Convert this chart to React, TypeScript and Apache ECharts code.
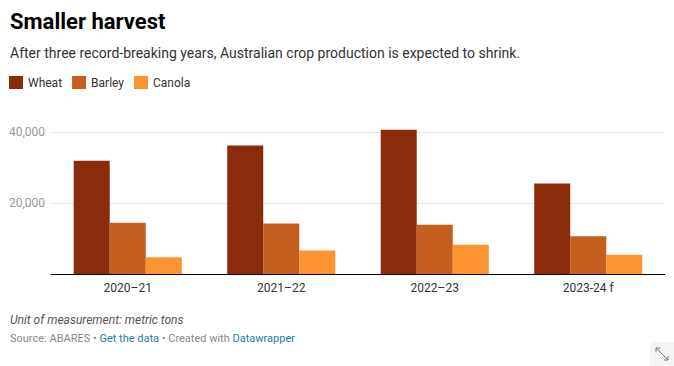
import React, { useEffect, useRef } from "react";
import * as echarts from "echarts";

const categories = ["2020–21", "2021–22", "2022–23", "2023-24 f"];
const wheat = [31900, 36200, 40650, 25500];
const barley = [14450, 14250, 13900, 10600];
const canola = [4700, 6650, 8250, 5450];
const yTicks = [20000, 40000];

const FONT = "Roboto, 'Noto Sans', sans-serif";

export default function App() {
  const ref = useRef<HTMLDivElement>(null);
  useEffect(() => {
    if (!ref.current) return;
    const chart = echarts.init(ref.current, undefined, { renderer: "svg" });
    const mk = (name: string, data: number[], color: string) => ({
      name,
      type: "bar",
      data,
      itemStyle: { color },
      barGap: "0%",
      barCategoryGap: "29.6%",
      clip: false,
    });
    chart.setOption({
      animation: false,
      textStyle: { fontFamily: FONT },
      legend: {
        left: 9,
        top: 76,
        padding: 0,
        icon: "rect",
        itemWidth: 14,
        itemHeight: 13,
        itemGap: 10,
        textStyle: { fontSize: 12, color: "#333", fontFamily: FONT },
        selectedMode: false,
      },
      grid: { left: 51, right: 9, top: 132, bottom: 92, containLabel: false },
      xAxis: {
        type: "category",
        data: categories,
        axisLine: { lineStyle: { color: "#000", width: 1 } },
        axisTick: { show: false },
        axisLabel: { color: "#333", fontSize: 12, margin: 8, fontFamily: FONT },
      },
      yAxis: {
        type: "value",
        min: 0,
        max: 40000,
        interval: 20000,
        axisLine: { show: false },
        axisTick: { show: false },
        splitLine: { lineStyle: { color: "#e6e6e6", width: 1 } },
        axisLabel: {
          color: "#999",
          fontSize: 12,
          margin: 6,
          fontFamily: FONT,
          formatter: (v: number) =>
            yTicks.includes(v) ? v.toLocaleString("en-US") : "",
        },
      },
      series: [
        mk("Wheat", wheat, "#8a2b0c"),
        mk("Barley", barley, "#c45f20"),
        mk("Canola", canola, "#fd9432"),
      ],
      graphic: [
        {
          type: "text",
          left: 10,
          top: 10,
          style: {
            text: "Smaller harvest",
            font: `bold 22px ${FONT}`,
            fill: "#000",
          },
        },
        {
          type: "text",
          left: 10,
          top: 46,
          style: {
            text: "After three record-breaking years, Australian crop production is expected to shrink.",
            font: `14px ${FONT}`,
            fill: "#333",
          },
        },
        {
          type: "text",
          left: 10,
          top: 314,
          style: {
            text: "Unit of measurement: metric tons",
            font: `italic 12px ${FONT}`,
            fill: "#555",
          },
        },
        {
          type: "text",
          left: 10,
          top: 333,
          style: {
            text: "{g|Source: ABARES • }{b|Get the data}{g| • Created with }{b|Datawrapper}",
            font: `11px ${FONT}`,
            rich: {
              g: { fill: "#888", font: `11px ${FONT}` },
              b: { fill: "#1d81a2", font: `11px ${FONT}` },
            },
          },
        },
        {
          type: "rect",
          shape: { x: 650, y: 342, width: 24, height: 24 },
          style: { fill: "#f4f4f4" },
        },
        {
          type: "line",
          shape: { x1: 656, y1: 348, x2: 668, y2: 360 },
          style: { stroke: "#777", lineWidth: 1 },
        },
        {
          type: "polyline",
          shape: { points: [[656, 352], [656, 348], [660, 348]] },
          style: { stroke: "#777", lineWidth: 1, fill: null },
        },
        {
          type: "polyline",
          shape: { points: [[664, 360], [668, 360], [668, 356]] },
          style: { stroke: "#777", lineWidth: 1, fill: null },
        },
      ],
    });
    return () => chart.dispose();
  }, []);
  return (
    <div
      ref={ref}
      style={{ position: "absolute", left: 0, top: 0, width: 674, height: 366, background: "#fff" }}
    />
  );
}
